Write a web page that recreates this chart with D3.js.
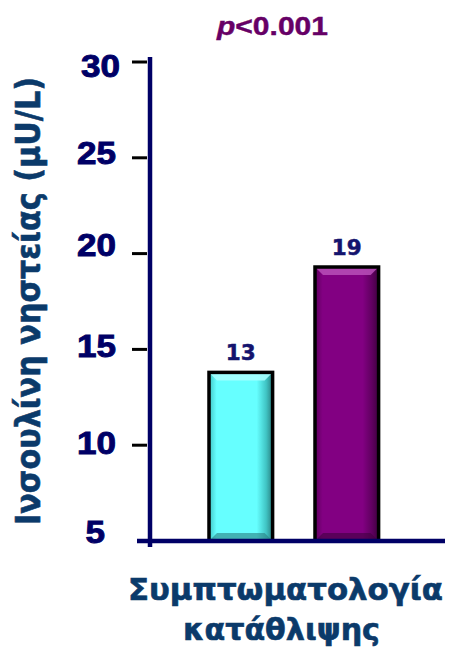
<!DOCTYPE html>
<html><head><meta charset="utf-8">
<script src="https://cdn.jsdelivr.net/npm/d3@7"></script>
<style>html,body{margin:0;padding:0;background:#fff}svg{display:block}</style>
</head><body>
<svg id="c" width="452" height="658"></svg>
<script>
const categories = ["low", "high"];
const values = [13.8, 19.3];
const valueLabels = ["13", "19"];
const yTicks = [5, 10, 15, 20, 25, 30];
const yTitle = "Ινσουλίνη νηστείας (μU/L)";
const xTitleLines = ["Συμπτωματολογία", "κατάθλιψης"];
const pText = ["p", "<0.001"];
const barColors = [
  {mid:"#66ffff", light:"#a6ffff", side:"#40c4c4", dark:"#2a7f80"},
  {mid:"#820082", light:"#b54ab5", side:"#5e005e", dark:"#3f003f"}
];

const svg = d3.select("#c");
const y = d3.scaleLinear().domain([5, 30]).range([541, 62]);
const x = d3.scaleBand().domain(categories).range([156, 431.6]).paddingInner(0.4).paddingOuter(0.5);
const navy = "#000066";
const titleBlue = "#0b3a6a";
const dv = "'DejaVu Sans', Verdana, sans-serif";
const ar = "'Liberation Sans', Arial, sans-serif";

// bars
const defs = svg.append("defs");
barColors.forEach((c, i) => {
  const g = defs.append("linearGradient").attr("id", "g" + i).attr("x1", 0).attr("x2", 1).attr("y1", 0).attr("y2", 0);
  g.append("stop").attr("offset", 0).attr("stop-color", c.side);
  g.append("stop").attr("offset", 0.12).attr("stop-color", c.mid);
  g.append("stop").attr("offset", 0.75).attr("stop-color", c.mid);
  g.append("stop").attr("offset", 0.9).attr("stop-color", c.side);
  g.append("stop").attr("offset", 1).attr("stop-color", c.dark);
});

const bars = svg.append("g");
categories.forEach((cat, i) => {
  const x0 = x(cat), w = x.bandwidth(), y0 = y(values[i]), y1 = y(5);
  const g = bars.append("g");
  g.append("rect").attr("x", x0).attr("y", y0).attr("width", w).attr("height", y1 - y0)
    .attr("fill", `url(#g${i})`);
  const b = 8;
  g.append("path").attr("d", `M${x0},${y0}L${x0 + w},${y0}L${x0 + w - b},${y0 + b}L${x0 + b},${y0 + b}Z`)
    .attr("fill", barColors[i].light).attr("opacity", 0.9);
  g.append("path").attr("d", `M${x0},${y1}L${x0 + w},${y1}L${x0 + w - b},${y1 - b}L${x0 + b},${y1 - b}Z`)
    .attr("fill", barColors[i].dark).attr("opacity", 0.6);
  g.append("rect").attr("x", x0).attr("y", y0).attr("width", w).attr("height", y1 - y0)
    .attr("fill", "none").attr("stroke", "#000").attr("stroke-width", 3.5);
  svg.append("text").attr("x", x0 + w / 2).attr("y", y0 - 12)
    .attr("text-anchor", "middle").attr("font-family", dv).attr("font-weight", "bold")
    .attr("font-size", 21.5).attr("fill", "#14146e")
    .attr("stroke", "#14146e").attr("stroke-width", 0.5).text(valueLabels[i]);
});

// axes
svg.append("line").attr("x1", 137).attr("x2", 445).attr("y1", y(5)).attr("y2", y(5))
  .attr("stroke", navy).attr("stroke-width", 4.5);
svg.append("line").attr("x1", 150).attr("x2", 150).attr("y1", y(30) - 5).attr("y2", y(5) + 6)
  .attr("stroke", navy).attr("stroke-width", 4.5);

const nudge = {30: 15, 25: 6, 20: 2, 15: 8, 10: 9, 5: 2};
const tg = svg.append("g");
yTicks.forEach(t => {
  if (t !== 5) {
    tg.append("line").attr("x1", 132).attr("x2", 147).attr("y1", y(t)).attr("y2", y(t))
      .attr("stroke", "#000").attr("stroke-width", 3);
  }
  const s = String(t);
  tg.append("text").attr("x", t === 5 ? 105 : (t === 30 ? 120 : 116)).attr("y", y(t) + nudge[t])
    .attr("text-anchor", "end").attr("font-family", ar).attr("font-weight", "bold")
    .attr("font-size", 31).attr("fill", navy).attr("stroke", navy).attr("stroke-width", 0.9)
    .attr("textLength", s.length * 19.5).attr("lengthAdjust", "spacingAndGlyphs").text(s);
});

// y title
svg.append("text").attr("transform", "translate(40,525) rotate(-90)")
  .attr("text-anchor", "start").attr("font-family", dv).attr("font-weight", "bold")
  .attr("font-size", 33).attr("fill", titleBlue).attr("stroke", titleBlue).attr("stroke-width", 0.6)
  .attr("textLength", 448).attr("lengthAdjust", "spacingAndGlyphs").text(yTitle);

// x title
const xt = [{x: 128, y: 600, len: 315}, {x: 183, y: 640, len: 197}];
xTitleLines.forEach((l, i) => {
  svg.append("text").attr("x", xt[i].x).attr("y", xt[i].y)
    .attr("text-anchor", "start").attr("font-family", dv).attr("font-weight", "bold")
    .attr("font-size", 29.5).attr("fill", titleBlue).attr("stroke", titleBlue).attr("stroke-width", 0.6)
    .attr("textLength", xt[i].len).attr("lengthAdjust", "spacingAndGlyphs").text(l);
});

// p value
const pt = svg.append("text").attr("x", 217).attr("y", 35).attr("text-anchor", "start")
  .attr("font-family", ar).attr("font-weight", "bold").attr("font-size", 25).attr("fill", "#660066")
  .attr("stroke", "#660066").attr("stroke-width", 0.4)
  .attr("textLength", 111).attr("lengthAdjust", "spacingAndGlyphs");
pt.append("tspan").attr("font-style", "italic").text(pText[0]);
pt.append("tspan").text(pText[1]);
</script>
</body></html>
